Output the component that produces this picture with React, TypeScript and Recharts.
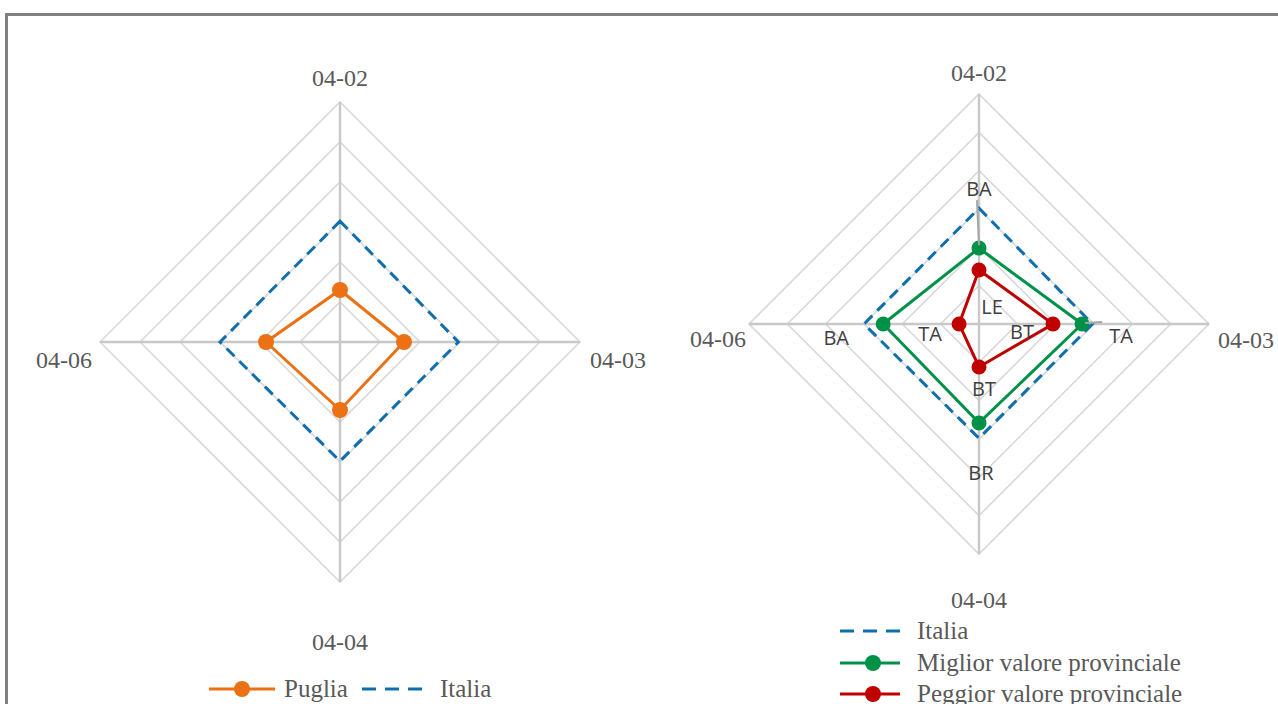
import React from 'react';
import { RadarChart, Radar, PolarGrid, PolarAngleAxis, PolarRadiusAxis, LabelList, Legend } from 'recharts';

// ---- data ----
const CATEGORIES = ['04-02', '04-03', '04-04', '04-06'];
const PUGLIA = [1.3, 1.6, 1.7, 1.85];
const ITALIA = [3.02, 2.96, 2.98, 3.0];
const MIGLIOR = [1.98, 2.69, 2.58, 2.5];
const PEGGIOR = [1.41, 1.93, 1.12, 0.52];
const MIGLIOR_LABELS = ['BA', 'TA', 'BR', 'BA'];
const PEGGIOR_LABELS = ['LE', 'BT', 'BT', 'TA'];
const RADIUS_TICKS = [0, 1, 2, 3, 4, 5, 6];

const leftData = CATEGORIES.map((c, i) => ({ cat: c, Puglia: PUGLIA[i], Italia: ITALIA[i] }));
const rightData = CATEGORIES.map((c, i) => ({
  cat: c,
  Italia: ITALIA[i],
  Miglior: MIGLIOR[i],
  Peggior: PEGGIOR[i],
}));

// ---- styles ----
const ORANGE = '#EC7014';
const BLUE = '#0F6FAE';
const GREEN = '#009149';
const RED = '#C00000';
const GRID = '#d9d9d9';
const SPOKE = '#c8c8c8';
const SERIF = '"Liberation Serif", "DejaVu Serif", serif';
const SANS = '"Open Sans", "Noto Sans", sans-serif';
const AXIS_FONT = 24;
const LEGEND_FONT = 25;

// offsets relative to the default tick point (vertex pushed out by 8px)
const LEFT_TICK_OFFSETS = [
  { dx: 0, dy: -8, anchor: 'middle' },
  { dx: 2, dy: 26, anchor: 'start' },
  { dx: 0, dy: 60, anchor: 'middle' },
  { dx: 0, dy: 26, anchor: 'end' },
];
const RIGHT_TICK_OFFSETS = [
  { dx: 0, dy: -5, anchor: 'middle' },
  { dx: 1, dy: 24, anchor: 'start' },
  { dx: 0, dy: 46, anchor: 'middle' },
  { dx: 5, dy: 23, anchor: 'end' },
];

const MIGLIOR_LABEL_POS = [
  { dx: 0, dy: -60, leader: [-2, -48, 0, -3] },
  { dx: 39, dy: 11, leader: [3, -1, 20, -2] },
  { dx: 2, dy: 50 },
  { dx: -47, dy: 13 },
];
const PEGGIOR_LABEL_POS = [
  { dx: 13, dy: 37 },
  { dx: -31, dy: 7 },
  { dx: 5, dy: 22 },
  { dx: -29, dy: 9 },
];

function makeTick(offsets: any[]) {
  return (props: any) => {
    const { x, y, payload } = props;
    const idx = CATEGORIES.indexOf(payload.value);
    const o = offsets[idx] || { dx: 0, dy: 0, anchor: 'middle' };
    return (
      <text x={x + o.dx} y={y + o.dy} textAnchor={o.anchor} fill="#595959" fontFamily={SERIF} fontSize={AXIS_FONT}>
        {payload.value}
      </text>
    );
  };
}

function makeLabel(labels: string[], pos: any[]) {
  return (props: any) => {
    const { x, y, index } = props;
    const p = pos[index];
    if (!p || x == null) return null;
    return (
      <g>
        {p.leader && (
          <line
            x1={x + p.leader[0]}
            y1={y + p.leader[1]}
            x2={x + p.leader[2]}
            y2={y + p.leader[3]}
            stroke="#a6a6a6"
            strokeWidth={2}
          />
        )}
        <text
          x={x + p.dx}
          y={y + p.dy}
          textAnchor="middle"
          dominantBaseline="central"
          fill="#404040"
          fontFamily={SANS}
          fontSize={20}
        >
          {labels[index]}
        </text>
      </g>
    );
  };
}

const LeftLegend = () => (
  <svg width={340} height={32}>
    <line x1={9} y1={15} x2={75} y2={15} stroke={ORANGE} strokeWidth={3} />
    <circle cx={42} cy={15} r={8} fill={ORANGE} />
    <text x={84} y={23} fill="#595959" fontFamily={SERIF} fontSize={LEGEND_FONT}>Puglia</text>
    <line x1={162} y1={15} x2={226} y2={15} stroke={BLUE} strokeWidth={3} strokeDasharray="14 9" />
    <text x={240} y={23} fill="#595959" fontFamily={SERIF} fontSize={LEGEND_FONT}>Italia</text>
  </svg>
);

const RightLegend = () => (
  <svg width={440} height={95}>
    <line x1={10} y1={16} x2={70} y2={16} stroke={BLUE} strokeWidth={3} strokeDasharray="14 9" />
    <text x={87} y={24} fill="#595959" fontFamily={SERIF} fontSize={LEGEND_FONT}>Italia</text>
    <line x1={10} y1={48} x2={70} y2={48} stroke={GREEN} strokeWidth={3} />
    <circle cx={43} cy={48} r={8} fill={GREEN} />
    <text x={87} y={56} fill="#595959" fontFamily={SERIF} fontSize={LEGEND_FONT}>Miglior valore provinciale</text>
    <line x1={10} y1={79} x2={70} y2={79} stroke={RED} strokeWidth={3} />
    <circle cx={43} cy={79} r={8} fill={RED} />
    <text x={87} y={87} fill="#595959" fontFamily={SERIF} fontSize={LEGEND_FONT}>Peggior valore provinciale</text>
  </svg>
);

const ZERO_RADIUS = [0];

export default function App() {
  return (
    <div style={{ position: 'absolute', left: 0, top: 0, width: 1278, height: 704, overflow: 'hidden', background: '#fff' }}>
      <div
        style={{
          position: 'absolute',
          left: 5,
          top: 13,
          width: 1400,
          height: 800,
          border: '3px solid #808080',
          boxSizing: 'border-box',
        }}
      />
      <div style={{ position: 'absolute', left: 0, top: 0 }}>
        <RadarChart width={672} height={704} data={leftData} cx={340} cy={342} outerRadius={240} startAngle={90} endAngle={-270}>
          <PolarGrid gridType="polygon" stroke={GRID} strokeWidth={1.6} radialLines={false} />
          <PolarGrid gridType="polygon" stroke={SPOKE} strokeWidth={2.4} polarRadius={ZERO_RADIUS} />
          <PolarRadiusAxis domain={[0, 6]} ticks={RADIUS_TICKS as any} tickCount={7} tick={false} axisLine={false} />
          <PolarAngleAxis dataKey="cat" tickLine={false} axisLine={false} tick={makeTick(LEFT_TICK_OFFSETS)} />
          <Radar
            name="Italia"
            dataKey="Italia"
            stroke={BLUE}
            strokeWidth={3}
            strokeDasharray="11 7"
            fill="none"
            fillOpacity={0}
            dot={false}
            isAnimationActive={false}
          />
          <Radar
            name="Puglia"
            dataKey="Puglia"
            stroke={ORANGE}
            strokeWidth={3}
            fill="none"
            fillOpacity={0}
            dot={{ r: 8, fill: ORANGE, stroke: 'none', fillOpacity: 1 }}
            isAnimationActive={false}
          />
          <Legend content={() => <LeftLegend />} wrapperStyle={{ position: 'absolute', left: 200, top: 674, width: 340, height: 32 }} />
        </RadarChart>
      </div>
      <div style={{ position: 'absolute', left: 672, top: 0 }}>
        <RadarChart width={606} height={704} data={rightData} cx={307} cy={324} outerRadius={230} startAngle={90} endAngle={-270}>
          <PolarGrid gridType="polygon" stroke={GRID} strokeWidth={1.6} radialLines={false} />
          <PolarGrid gridType="polygon" stroke={SPOKE} strokeWidth={2.4} polarRadius={ZERO_RADIUS} />
          <PolarRadiusAxis domain={[0, 6]} ticks={RADIUS_TICKS as any} tickCount={7} tick={false} axisLine={false} />
          <PolarAngleAxis dataKey="cat" tickLine={false} axisLine={false} tick={makeTick(RIGHT_TICK_OFFSETS)} />
          <Radar
            name="Italia"
            dataKey="Italia"
            stroke={BLUE}
            strokeWidth={3}
            strokeDasharray="11 7"
            fill="none"
            fillOpacity={0}
            dot={false}
            isAnimationActive={false}
          />
          <Radar
            name="Miglior valore provinciale"
            dataKey="Miglior"
            stroke={GREEN}
            strokeWidth={3}
            fill="none"
            fillOpacity={0}
            dot={{ r: 7.5, fill: GREEN, stroke: 'none', fillOpacity: 1 }}
            isAnimationActive={false}
          >
            <LabelList dataKey="Miglior" content={makeLabel(MIGLIOR_LABELS, MIGLIOR_LABEL_POS)} />
          </Radar>
          <Radar
            name="Peggior valore provinciale"
            dataKey="Peggior"
            stroke={RED}
            strokeWidth={3}
            fill="none"
            fillOpacity={0}
            dot={{ r: 7.5, fill: RED, stroke: 'none', fillOpacity: 1 }}
            isAnimationActive={false}
          >
            <LabelList dataKey="Peggior" content={makeLabel(PEGGIOR_LABELS, PEGGIOR_LABEL_POS)} />
          </Radar>
          <Legend content={() => <RightLegend />} wrapperStyle={{ position: 'absolute', left: 158, top: 615, width: 440, height: 95 }} />
        </RadarChart>
      </div>
    </div>
  );
}
